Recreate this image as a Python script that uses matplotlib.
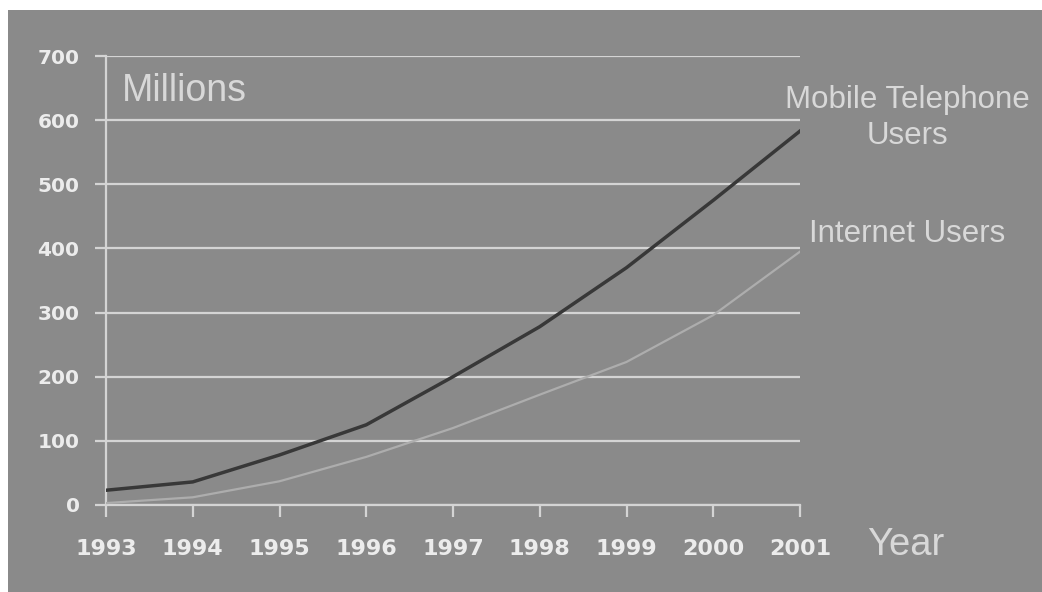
import numpy as np
import matplotlib.pyplot as plt
from matplotlib.patches import Rectangle

years = [1993, 1994, 1995, 1996, 1997, 1998, 1999, 2000, 2001]
mobile_users = [23, 36, 78, 125, 200, 278, 370, 475, 583]
internet_users = [3, 12, 37, 75, 120, 172, 223, 296, 395]
y_ticks = [0, 100, 200, 300, 400, 500, 600, 700]

bg = '#8a8a8a'
grid_col = '#d4d4d4'
text_col = '#d8d8d8'
tick_col = '#ececec'

fig = plt.figure(figsize=(10.42, 5.92), dpi=100)
fig.patch.set_facecolor('white')
# gray panel with a thin white margin at top and left
fig.patches.append(Rectangle((8 / 1042, 0), 1, 582 / 592, transform=fig.transFigure,
                             facecolor=bg, edgecolor='none', zorder=-10))

ax = fig.add_axes([106 / 1042, 87 / 592, 694 / 1042, 449 / 592])
ax.set_facecolor(bg)

ax.plot(years, internet_users, color='#adadad', linewidth=1.6, zorder=3)
ax.plot(years, mobile_users, color='#383838', linewidth=2.5, zorder=4)

ax.set_xlim(1993, 2001)
ax.set_ylim(0, 700)
ax.set_xticks(years)
ax.set_yticks(y_ticks)
ax.set_yticklabels([str(v) for v in y_ticks])
ax.grid(axis='y', color=grid_col, linewidth=1.6, zorder=1)

for s in ['top', 'right']:
    ax.spines[s].set_visible(False)
for s in ['left', 'bottom']:
    ax.spines[s].set_color(grid_col)
    ax.spines[s].set_linewidth(1.6)

ax.tick_params(axis='y', length=8, width=1.6, color=grid_col, pad=11,
               labelcolor=tick_col, labelsize=14.5)
ax.tick_params(axis='x', length=8.5, width=1.6, color=grid_col, pad=16,
               labelcolor=tick_col, labelsize=16)
for lab in ax.get_xticklabels() + ax.get_yticklabels():
    lab.set_fontweight('bold')
    lab.set_fontfamily('DejaVu Sans')

fig.text(122 / 1042, 1 - 91 / 592, 'Millions',
         fontsize=27, color=text_col, family='Liberation Sans', va='center', ha='left')
fig.text(907 / 1042, 1 - 118 / 592, 'Mobile Telephone\nUsers',
         fontsize=22.5, color=text_col, family='Liberation Sans', va='center', ha='center',
         linespacing=1.22)
fig.text(907 / 1042, 1 - 234 / 592, 'Internet Users',
         fontsize=22.5, color=text_col, family='Liberation Sans', va='center', ha='center')
fig.text(906 / 1042, 1 - 545 / 592, 'Year',
         fontsize=27.5, color=text_col, family='Liberation Sans', va='center', ha='center')

fig.savefig('out.png', dpi=100, facecolor=fig.get_facecolor())
